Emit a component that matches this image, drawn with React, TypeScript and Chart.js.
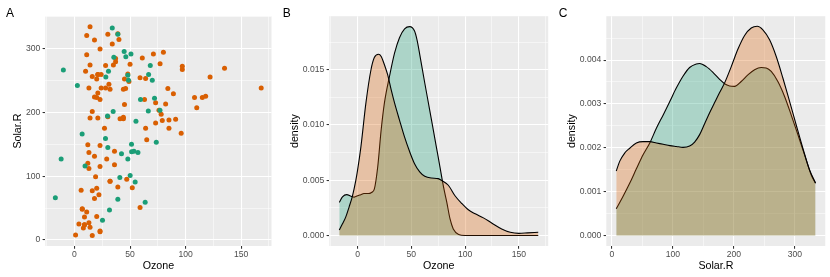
import React, { useEffect, useRef } from "react";
import { Chart, registerables } from "chart.js";

Chart.register(...registerables);

// ---------- Panel A: scatter (complete cases = orange, imputed = teal) ----------
const ozoneObs = [41,36,12,18,23,19,8,16,11,14,18,14,34,6,30,11,1,11,4,32,23,45,115,37,29,71,39,23,21,37,20,12,13,135,49,32,64,40,77,97,97,85,10,27,7,48,35,61,79,63,16,80,108,20,52,82,50,64,59,39,9,16,122,89,110,44,28,65,22,59,23,31,44,21,9,45,168,73,76,118,84,85,96,78,73,91,47,32,20,23,21,24,44,21,28,9,13,46,18,13,24,16,13,23,36,7,14,30,14,18,20];
const solarObs = [190,118,149,313,299,99,19,256,290,274,65,334,307,78,322,44,8,320,25,92,13,252,223,279,127,291,323,148,191,284,37,120,137,269,248,236,175,314,276,267,272,175,264,175,48,260,274,285,187,220,7,294,223,81,82,213,275,253,254,83,24,77,255,229,207,192,273,157,71,51,115,244,190,259,36,212,238,215,203,225,237,188,167,197,183,189,95,92,252,220,230,259,236,259,238,24,112,237,224,27,238,201,238,14,139,49,20,193,191,131,223];

const ozoneImp = [34,39,44.7,50.8,35.4,46.2,-10,68.2,30.6,28.2,48,66.7,70,48.6,2.6,59.4,72,66.4,76.9,34.8,29.7,55.3,6.9,27.9,73.6,51.3,30,42.3,51.4,53.5,57.1,-12,48,9.5,50.1,40.8,54.6,-17.2,39,63.6,31.5,25.2];
const solarImp = [332,322,295,291,286,287,266,273,264,255,258,259,250,250,242,220,222,202,203,201,194,186,166,159,153,150,145,135,138,139,137,127,127,116,101,98,91,66,64,59,47,31];

// ---------- Panel B: density of Ozone ----------
const bTealX = [-17,-14,-10,-6,-3,0,3,6,10,13,15.6,18.75,21.9,25,29.7,34.4,39,43.75,48.5,53,55.3,57.8,62.5,67,72,75,78.8,81,83,86,89,94,100,168];
const bTealY = [0.0030,0.0035,0.0037,0.00355,0.00348,0.0036,0.0037,0.0038,0.0038,0.0039,0.0042,0.0062,0.0095,0.0120,0.0144,0.0165,0.0179,0.0187,0.0189,0.0185,0.0177,0.0164,0.0138,0.0114,0.0087,0.0071,0.0050,0.0039,0.0030,0.0015,0.0006,0.0001,0,0];
const bOrangeX = [-17,-14,-11,-7.8,-4.7,-1.6,0,3.1,7.8,12.5,15.6,19.5,22,25,28,31.25,34.4,39,43.75,48.4,53,57.8,62.5,68.75,75,78,84.4,90.6,96.9,103,109.4,117,125,134,142,150,158,168];
const bOrangeY = [0.0005,0.00106,0.00167,0.0026,0.0036,0.0050,0.0059,0.0080,0.0120,0.0150,0.0161,0.0164,0.0162,0.01545,0.01455,0.0132,0.0120,0.01045,0.0089,0.0076,0.0065,0.00576,0.00536,0.0052,0.00515,0.0050,0.00455,0.0036,0.0029,0.00233,0.00197,0.0016,0.00112,0.0006,0.0003,0.0002,0.00024,0.0003];

// ---------- Panel C: density of Solar.R ----------
const cTealX = [7,18,29,40,51,62,73,84,95,105.5,116.5,127.4,138.3,143.8,154.7,165.6,176.6,184.8,193,201.2,212,223,234,245,253,261.3,272.2,283.2,294,305,316,327,334];
const cTealY = [0.00061,0.00089,0.00119,0.00152,0.00184,0.00211,0.00245,0.00275,0.00306,0.00336,0.00363,0.00383,0.00391,0.00392,0.00385,0.00372,0.00356,0.00346,0.00341,0.0034,0.00351,0.00366,0.00378,0.00383,0.00382,0.00374,0.00351,0.00317,0.00275,0.0023,0.00184,0.00138,0.00119];
const cOrangeX = [7,12.6,20.8,29,40,51,62,73,84,95,105.5,116.5,127.4,135.6,143.8,152,160.2,168.4,176.6,184.8,195.7,206.7,217.6,228.5,238.3,247.6,258.6,269.5,280.4,291.4,302.3,313.2,324.1,334];
const cOrangeY = [0.00147,0.00169,0.00188,0.00199,0.00211,0.00214,0.00214,0.00211,0.00208,0.00205,0.00203,0.00201,0.00204,0.00213,0.0023,0.00255,0.0028,0.00303,0.00326,0.00348,0.00385,0.00425,0.00456,0.00473,0.00477,0.00469,0.00446,0.00408,0.00359,0.00306,0.00252,0.00199,0.0015,0.0012];

// ---------- ticks ----------
const ozTicks = [-25,0,25,50,75,100,125,150,175];
const ozLabels = ["","0","","50","","100","","150",""];
const solarTicks = [0,50,100,150,200,250,300,350];
const solarLabels = ["0","","100","","200","","300",""];
const bDensTicks = [0,0.0025,0.005,0.0075,0.01,0.0125,0.015,0.0175];
const bDensLabels = ["0.000","","0.005","","0.010","","0.015",""];
const cDensTicks = [0,0.0005,0.001,0.0015,0.002,0.0025,0.003,0.0035,0.004,0.0045];
const cDensLabels = ["0.000","","0.001","","0.002","","0.003","","0.004",""];

const TEAL = "#1B9E77";
const ORANGE = "#D95F02";
const TEAL_FILL = "rgba(27,158,119,0.3)";
const ORANGE_FILL = "rgba(217,95,2,0.3)";
const FONT = "'Liberation Sans', Arial, Helvetica, sans-serif";

const W = 830;
const H = 277;
const PLOT_TOP = 16.2;
const PLOT_BOTTOM = 246;

const panelBg = {
  id: "panelBg",
  beforeDraw(chart: any) {
    const { ctx, chartArea } = chart;
    ctx.save();
    ctx.fillStyle = "#EBEBEB";
    ctx.fillRect(chartArea.left, chartArea.top, chartArea.right - chartArea.left, chartArea.bottom - chartArea.top);
    ctx.restore();
  },
};

function axis(
  isX: boolean,
  min: number,
  max: number,
  ticks: number[],
  labels: string[],
  title: string,
  size: number,
  titlePad: number,
  tickPad: number
) {
  const major = labels.map((l) => l !== "");
  return {
    type: "linear",
    position: isX ? "bottom" : "left",
    min,
    max,
    afterBuildTicks: (scale: any) => {
      scale.ticks = ticks.map((v) => ({ value: v }));
    },
    afterFit: (scale: any) => {
      if (isX) scale.height = size;
      else scale.width = size;
    },
    ticks: {
      autoSkip: false,
      maxRotation: 0,
      minRotation: 0,
      padding: tickPad,
      color: "#4D4D4D",
      font: { family: FONT, size: 8.6 },
      callback: (_v: any, i: number) => labels[i] ?? "",
    },
    grid: {
      drawOnChartArea: true,
      drawTicks: true,
      tickLength: 2.7,
      color: "#FFFFFF",
      lineWidth: (c: any) => (major[c.index] ? 1.07 : 0.53),
      tickColor: (c: any) => (major[c.index] ? "#333333" : "rgba(0,0,0,0)"),
      tickWidth: 1.07,
    },
    border: { display: false },
    title: {
      display: true,
      text: title,
      color: "#000000",
      font: { family: FONT, size: 10.7 },
      padding: isX ? { top: 0, bottom: titlePad } : { top: titlePad, bottom: 0 },
    },
  };
}

function baseOptions(padLeft: number, plotLeft: number, plotRight: number, xAxis: any, yAxis: any) {
  return {
    responsive: false,
    animation: false,
    events: [],
    layout: {
      padding: { left: padLeft, right: W - plotRight, top: PLOT_TOP, bottom: 0 },
    },
    plugins: { legend: { display: false }, tooltip: { enabled: false }, title: { display: false } },
    scales: { x: xAxis, y: yAxis },
  };
}

function pts(xs: number[], ys: number[]) {
  return xs.map((x, i) => ({ x, y: ys[i] }));
}

function densitySet(xs: number[], ys: number[], fill: string) {
  return {
    data: pts(xs, ys),
    borderColor: "#000000",
    borderWidth: 1.1,
    backgroundColor: fill,
    fill: "origin",
    pointRadius: 0,
    cubicInterpolationMode: "monotone",
  };
}

export default function App() {
  const refA = useRef<HTMLCanvasElement>(null);
  const refB = useRef<HTMLCanvasElement>(null);
  const refC = useRef<HTMLCanvasElement>(null);

  useEffect(() => {
    const charts: Chart[] = [];
    const xH = H - PLOT_BOTTOM;

    // Panel A
    const aLeft = 0, aPlotLeft = 45.3, aPlotRight = 271.5;
    charts.push(
      new Chart(refA.current as HTMLCanvasElement, {
        type: "scatter",
        data: {
          datasets: [
            { data: pts(ozoneImp, solarImp), backgroundColor: TEAL, borderWidth: 0, pointRadius: 2.5 },
            { data: pts(ozoneObs, solarObs), backgroundColor: ORANGE, borderWidth: 0, pointRadius: 2.5 },
          ],
        },
        options: baseOptions(
          aLeft, aPlotLeft, aPlotRight,
          axis(true, -26.25, 177.25, ozTicks, ozLabels, "Ozone", xH, 4.3, 1),
          axis(false, -9.35, 350.35, solarTicks, solarLabels, "Solar.R", aPlotLeft - aLeft, 11.6, 2.3)
        ) as any,
        plugins: [panelBg],
      } as any)
    );

    // Panel B
    const bLeft = 276.7, bPlotLeft = 329.3, bPlotRight = 548.2;
    charts.push(
      new Chart(refB.current as HTMLCanvasElement, {
        type: "line",
        data: {
          datasets: [
            densitySet(bOrangeX, bOrangeY, ORANGE_FILL),
            densitySet(bTealX, bTealY, TEAL_FILL),
          ],
        },
        options: baseOptions(
          bLeft, bPlotLeft, bPlotRight,
          axis(true, -26.25, 177.25, ozTicks, ozLabels, "Ozone", xH, 4.3, 1),
          axis(false, -0.000945, 0.019845, bDensTicks, bDensLabels, "density", bPlotLeft - bLeft, 11.9, 2.3)
        ) as any,
        plugins: [panelBg],
      } as any)
    );

    // Panel C
    const cLeft = 553.3, cPlotLeft = 606.3, cPlotRight = 825.5;
    charts.push(
      new Chart(refC.current as HTMLCanvasElement, {
        type: "line",
        data: {
          datasets: [
            densitySet(cOrangeX, cOrangeY, ORANGE_FILL),
            densitySet(cTealX, cTealY, TEAL_FILL),
          ],
        },
        options: baseOptions(
          cLeft, cPlotLeft, cPlotRight,
          axis(true, -9.35, 350.35, solarTicks, solarLabels, "Solar.R", xH, 4.3, 1),
          axis(false, -0.000238, 0.004999, cDensTicks, cDensLabels, "density", cPlotLeft - cLeft, 12.2, 2.3)
        ) as any,
        plugins: [panelBg],
      } as any)
    );

    return () => {
      charts.forEach((c) => c.destroy());
    };
  }, []);

  const canvasStyle: React.CSSProperties = { position: "absolute", left: 0, top: 0, width: W, height: H };
  const labelStyle = (left: number): React.CSSProperties => ({
    position: "absolute",
    left,
    top: 6.5,
    fontFamily: FONT,
    fontSize: 12,
    lineHeight: "12px",
    color: "#000000",
  });

  return (
    <div style={{ position: "absolute", left: 0, top: 0, width: W, height: H, background: "#FFFFFF", overflow: "hidden" }}>
      <canvas ref={refA} width={W} height={H} style={canvasStyle} />
      <canvas ref={refB} width={W} height={H} style={canvasStyle} />
      <canvas ref={refC} width={W} height={H} style={canvasStyle} />
      <div style={labelStyle(6)}>A</div>
      <div style={labelStyle(282.7)}>B</div>
      <div style={labelStyle(558.8)}>C</div>
    </div>
  );
}
